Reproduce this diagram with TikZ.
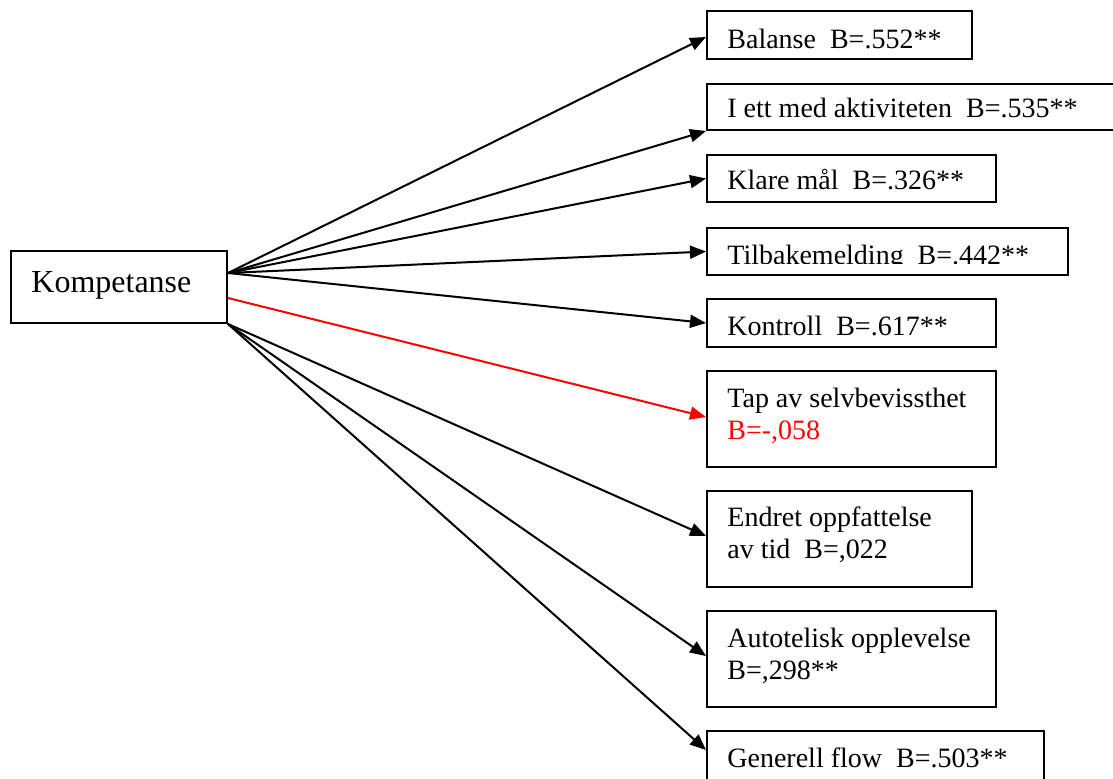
\documentclass[tikz,border=0pt]{standalone}
\usepackage{fontspec}
\setmainfont{Liberation Serif}
\usetikzlibrary{arrows.meta}

\tikzset{
  boks/.style={draw, line width=1pt, inner sep=0pt, anchor=north west},
  tekst/.style={inner sep=0pt, anchor=base west, align=left,
    font=\fontsize{14}{16}\selectfont},
  pil/.style={-{Triangle[length=8pt,width=6.5pt]}, line width=1pt},
}

\begin{document}
\begin{tikzpicture}[x=0.5pt,y=-0.5pt]
    \clip (0,0) rectangle (1113,778);
    % venstre boks
    \node[boks, minimum width=108pt, minimum height=36pt] (komp) at (10,250) {};
    \node[tekst, font=\fontsize{16}{19}\selectfont] (kompT) at (31,292) {Kompetanse};
    % boksene til hoyre
    \node[boks, minimum width=132.5pt, minimum height=24pt] (balanse) at (706,10) {};
    \node[boks, minimum width=215pt, minimum height=23pt] (iett) at (706,83) {};
    \node[boks, minimum width=144.5pt, minimum height=23.5pt] (klare) at (706,154) {};
    \node[boks, minimum width=180.5pt, minimum height=23.5pt] (tilbake) at (706,227) {};
    \node[boks, minimum width=144.5pt, minimum height=24pt] (kontroll) at (706,298) {};
    \node[boks, minimum width=144.5pt, minimum height=48pt] (tap) at (706,370) {};
    \node[boks, minimum width=132.5pt, minimum height=48pt] (endret) at (706,490) {};
    \node[boks, minimum width=144.5pt, minimum height=48pt] (auto) at (706,610) {};
    \node[boks, minimum width=168.5pt, minimum height=30pt] (generell) at (706,730) {};
    % tekst (base = siste linje)
    \node[tekst] (balanseT) at ([shift={(21,38)}]balanse.north west) {Balanse\ \ B=.552**};
    \node[tekst] (iettT) at ([shift={(21,34)}]iett.north west) {I ett med aktiviteten\ \ B=.535**};
    \node[tekst] (klareT) at ([shift={(21,35)}]klare.north west) {Klare mål\ \ B=.326**};
    \begin{scope}
      \clip (706,227) rectangle (1067,263);
      \node[tekst] (tilbakeT) at ([shift={(21,37)}]tilbake.north west) {Tilbakemelding\ \ B=.442**};
    \end{scope}
    \node[tekst] (kontrollT) at ([shift={(21,37)}]kontroll.north west) {Kontroll\ \ B=.617**};
    \node[tekst] (tapT) at ([shift={(21,69)}]tap.north west) {Tap av selvbevissthet\\\textcolor{red}{B=-,058}};
    \node[tekst] (endretT) at ([shift={(21,68)}]endret.north west) {Endret oppfattelse\\av tid\ \ B=,022};
    \node[tekst] (autoT) at ([shift={(21,69)}]auto.north west) {Autotelisk opplevelse\\B=,298**};
    \node[tekst] (generellT) at ([shift={(21,37)}]generell.north west) {Generell flow\ \ B=.503**};
    % startpunkt
    \coordinate (topp) at ([shift={(0,23)}]komp.north east);
    \coordinate (midt) at ([shift={(0,48)}]komp.north east);
    % piler
    \draw[pil] (topp) -- ([shift={(0,2)}]balanse.west);
    \draw[pil] (topp) -- (iett.south west);
    \draw[pil] (topp) -- (klare.west);
    \draw[pil] (topp) -- (tilbake.west);
    \draw[pil] (topp) -- (kontroll.west);
    \draw[pil, red] (midt) -- ([shift={(0,-2)}]tap.west);
    \draw[pil] (komp.south east) -- ([shift={(0,-3)}]endret.west);
    \draw[pil] (komp.south east) -- ([shift={(0,-3)}]auto.west);
    \draw[pil] (komp.south east) -- ([shift={(0,20)}]generell.north west);
\end{tikzpicture}
\end{document}
